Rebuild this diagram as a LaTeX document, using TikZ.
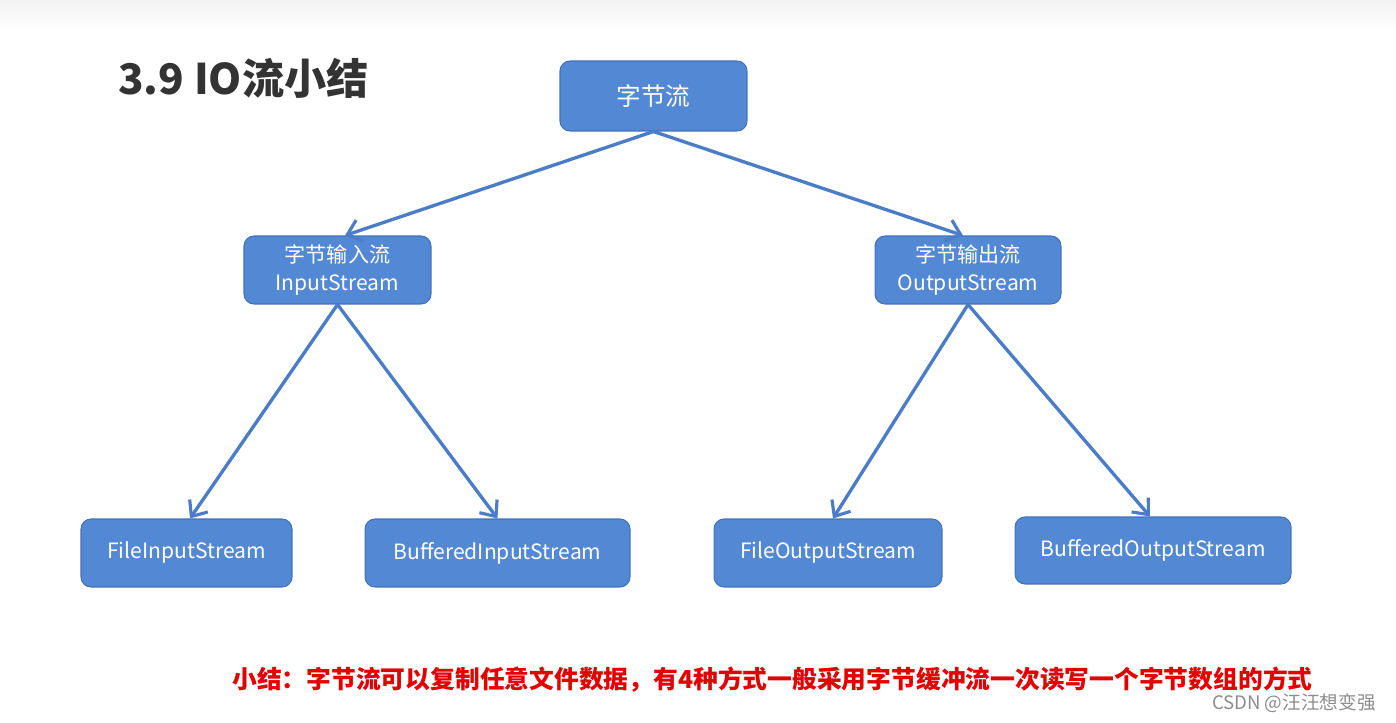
\documentclass[tikz,border=0pt]{standalone}
\usepackage{fontspec}
\setmainfont{Noto Sans CJK SC}
\usepackage{tikz}
\usetikzlibrary{arrows.meta}
\definecolor{boxblue}{RGB}{82,136,212}
\definecolor{boxedge}{RGB}{66,114,186}
\definecolor{lineblue}{RGB}{74,124,200}
\definecolor{sumred}{RGB}{226,0,0}
\tikzset{
  >={Straight Barb[length=2.6mm,width=4.4mm,line width=1.8pt]},
  bx/.style={rectangle,rounded corners=0.2cm,draw=boxedge,line width=0.6pt,fill=boxblue,
    text=white,inner sep=0pt,minimum height=1.36cm,align=center},
  ln/.style={->,draw=lineblue,line width=1.9pt},
  every picture/.style={line width=0.5pt},
}
\begin{document}
\begin{tikzpicture}[x=0.02cm,y=-0.02cm]
\useasboundingbox (0,0) rectangle (1396,723);
\shade[top color=black!5,bottom color=white] (0,0) rectangle (1396,30);
\node[anchor=west,font=\fontsize{24}{28}\selectfont\bfseries,text=black!80] (title) at (112,78) {3.9 IO流小结};
\node[bx,minimum width=3.74cm,minimum height=1.4cm,font=\fontsize{14}{17}\selectfont] (top) at (653.5,96) {字节流};
\node[bx,minimum width=3.74cm,font=\fontsize{12}{16}\selectfont] (in) at (337.5,270) {字节输入流\\InputStream};
\node[bx,minimum width=3.72cm,font=\fontsize{12}{16}\selectfont] (out) at (968,270) {字节输出流\\OutputStream};
\node[bx,minimum width=4.22cm,font=\fontsize{12}{15}\selectfont] (fin) at (186.5,553) {FileInputStream};
\node[bx,minimum width=5.3cm,font=\fontsize{12}{15}\selectfont] (bin) at (497.5,553) {BufferedInputStream};
\node[bx,minimum width=4.56cm,font=\fontsize{12}{15}\selectfont] (fout) at (828,553) {FileOutputStream};
\node[bx,minimum width=5.52cm,minimum height=1.34cm,font=\fontsize{12}{15}\selectfont] (bout) at (1153,550.5) {BufferedOutputStream};
\draw[ln] (top.south) -- ([xshift=0.15cm]in.north);
\draw[ln] (top.south) -- ([xshift=-0.1cm]out.north);
\draw[ln] (in.south) -- ([xshift=0.07cm]fin.north);
\draw[ln] (in.south) -- (bin.north);
\draw[ln] (out.south) -- ([xshift=0.1cm]fout.north);
\draw[ln] (out.south) -- ([xshift=-0.06cm]bout.north);
\node[anchor=west,font=\fontsize{14.1}{17}\selectfont\bfseries,text=sumred] (sum) at (226,680) {小结：字节流可以复制任意文件数据，有4种方式一般采用字节缓冲流一次读写一个字节数组的方式};
\node[anchor=east,font=\fontsize{10.6}{13}\selectfont,text=black!45] (wm) at (1382,703) {CSDN @汪汪想变强};
\end{tikzpicture}
\end{document}
